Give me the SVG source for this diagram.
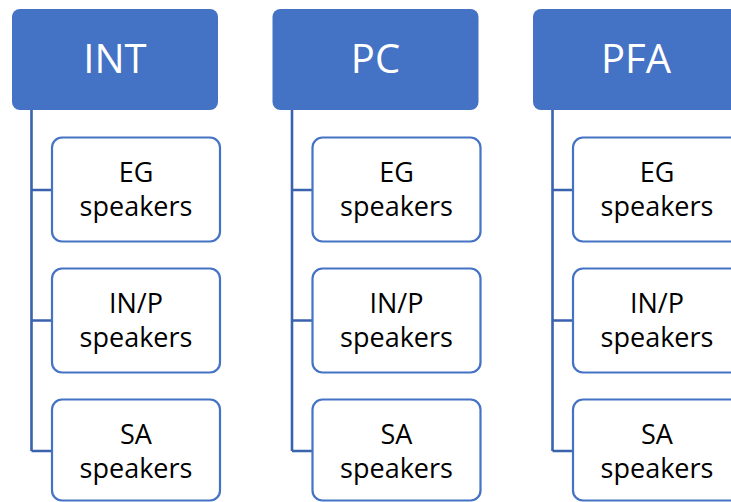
<svg xmlns="http://www.w3.org/2000/svg" width="731" height="502" viewBox="0 0 731 502">
  <style>
    .head { fill: #4472C4; }
    .head-text { fill: #FFFFFF; font-family: "Open Sans", "Liberation Sans", sans-serif; font-size: 40px; text-anchor: middle; }
    .item { fill: #FFFFFF; stroke: #4472C4; stroke-width: 2.2; }
    .item-text { fill: #000000; font-family: "Open Sans", "Liberation Sans", sans-serif; font-size: 27px; text-anchor: middle; }
    .link { fill: none; stroke: #3A62AD; stroke-width: 2.6; }
  </style>
  <rect width="731" height="502" fill="#FFFFFF"/>

  <!-- connectors: a spine under each heading with branches to its items -->
  <g id="connectors">
    <path class="link" d="M31.5 110 V451 M31.5 190 H52 M31.5 320.5 H52 M31.5 451 H52"/>
    <path class="link" d="M292 110 V451 M292 190 H312.5 M292 320.5 H312.5 M292 451 H312.5"/>
    <path class="link" d="M552.5 110 V451 M552.5 190 H573 M552.5 320.5 H573 M552.5 451 H573"/>
  </g>

  <!-- INT column -->
  <g id="int">
    <rect class="head" x="12" y="9" width="206" height="101" rx="8"/>
    <text class="head-text" x="115" y="73">INT</text>
  </g>
  <g id="int-eg">
    <rect class="item" x="52" y="137.5" width="168" height="104" rx="10"/>
    <text class="item-text" x="136" y="182">EG</text>
    <text class="item-text" x="136" y="216">speakers</text>
  </g>
  <g id="int-inp">
    <rect class="item" x="52" y="268.5" width="168" height="104" rx="10"/>
    <text class="item-text" x="136" y="313">IN/P</text>
    <text class="item-text" x="136" y="347">speakers</text>
  </g>
  <g id="int-sa">
    <rect class="item" x="52" y="399.5" width="168" height="101" rx="10"/>
    <text class="item-text" x="136" y="444">SA</text>
    <text class="item-text" x="136" y="478">speakers</text>
  </g>

  <!-- PC column -->
  <g id="pc">
    <rect class="head" x="272.5" y="9" width="206" height="101" rx="8"/>
    <text class="head-text" x="375.5" y="73">PC</text>
  </g>
  <g id="pc-eg">
    <rect class="item" x="312.5" y="137.5" width="168" height="104" rx="10"/>
    <text class="item-text" x="396.5" y="182">EG</text>
    <text class="item-text" x="396.5" y="216">speakers</text>
  </g>
  <g id="pc-inp">
    <rect class="item" x="312.5" y="268.5" width="168" height="104" rx="10"/>
    <text class="item-text" x="396.5" y="313">IN/P</text>
    <text class="item-text" x="396.5" y="347">speakers</text>
  </g>
  <g id="pc-sa">
    <rect class="item" x="312.5" y="399.5" width="168" height="101" rx="10"/>
    <text class="item-text" x="396.5" y="444">SA</text>
    <text class="item-text" x="396.5" y="478">speakers</text>
  </g>

  <!-- PFA column (runs past the right edge) -->
  <g id="pfa">
    <rect class="head" x="533" y="9" width="206" height="101" rx="8"/>
    <text class="head-text" x="636" y="73">PFA</text>
  </g>
  <g id="pfa-eg">
    <rect class="item" x="573" y="137.5" width="168" height="104" rx="10"/>
    <text class="item-text" x="657" y="182">EG</text>
    <text class="item-text" x="657" y="216">speakers</text>
  </g>
  <g id="pfa-inp">
    <rect class="item" x="573" y="268.5" width="168" height="104" rx="10"/>
    <text class="item-text" x="657" y="313">IN/P</text>
    <text class="item-text" x="657" y="347">speakers</text>
  </g>
  <g id="pfa-sa">
    <rect class="item" x="573" y="399.5" width="168" height="101" rx="10"/>
    <text class="item-text" x="657" y="444">SA</text>
    <text class="item-text" x="657" y="478">speakers</text>
  </g>
</svg>
